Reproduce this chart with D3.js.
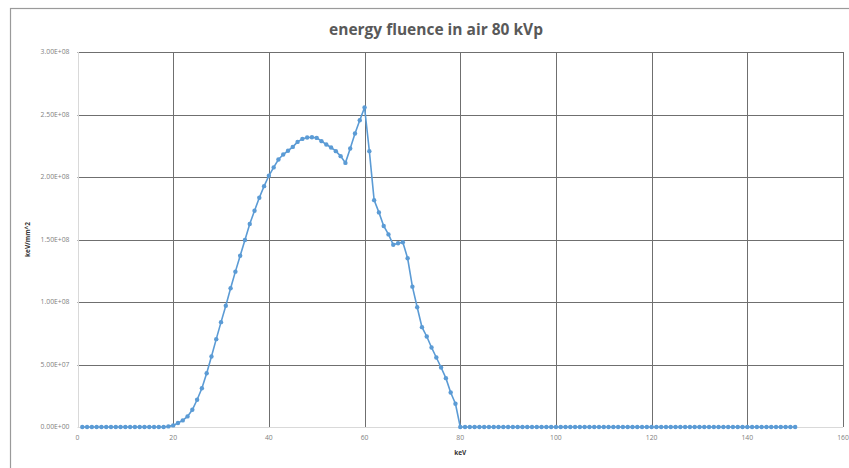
<!DOCTYPE html>
<html>
<head>
<meta charset="utf-8">
<script src="https://cdn.jsdelivr.net/npm/d3@7"></script>
<style>
  body { margin: 0; background: #fff; }
  svg { display: block; font-family: "Open Sans", "Liberation Sans", sans-serif; }
</style>
</head>
<body>
<svg id="vis-svg"></svg>
<script>
// energy (keV) 1..150
const energies = d3.range(1, 151);

// energy fluence values, keV 1..80 (zero after 80)
const fluenceLow = [
  0, 0, 0, 0, 0, 0, 0, 0, 0, 0,
  0, 0, 0, 0, 0, 0, 0, 0, 0.5e6, 1.3e6,
  3.2e6, 5.3e6, 8.5e6, 1.38e7, 2.18e7, 3.1e7, 4.3e7, 5.64e7, 7.03e7, 8.39e7,
  9.7e7, 1.11e8, 1.243e8, 1.37e8, 1.496e8, 1.624e8, 1.73e8, 1.834e8, 1.927e8, 2.01e8,
  2.077e8, 2.14e8, 2.18e8, 2.21e8, 2.241e8, 2.281e8, 2.305e8, 2.316e8, 2.318e8, 2.313e8,
  2.287e8, 2.26e8, 2.236e8, 2.207e8, 2.167e8, 2.113e8, 2.228e8, 2.348e8, 2.454e8, 2.556e8,
  2.207e8, 1.815e8, 1.717e8, 1.608e8, 1.541e8, 1.458e8, 1.47e8, 1.478e8, 1.35e8, 1.123e8,
  9.58e7, 7.99e7, 7.24e7, 6.36e7, 5.56e7, 4.76e7, 3.91e7, 2.76e7, 1.86e7, 0
];
const fluence = energies.map((e, i) => i < fluenceLow.length ? fluenceLow[i] : 0);

const xTicks = [0, 20, 40, 60, 80, 100, 120, 140, 160];
const yTicks = [0, 5e7, 1e8, 1.5e8, 2e8, 2.5e8, 3e8];

const titleText = "energy fluence in air 80 kVp";
const xLabelText = "keV";
const yLabelText = "keV/mm^2";

const W = 849, H = 468;
const margin = {top: 52, right: 6, bottom: 41, left: 77.5};

const svg = d3.select("#vis-svg").attr("width", W).attr("height", H);

// outer chart frame (cut off at right and bottom)
svg.append("rect")
    .attr("x", 10.5).attr("y", 8.5)
    .attr("width", W + 20).attr("height", H + 20)
    .attr("fill", "none").attr("stroke", "#9a9a9a").attr("stroke-width", 1.2);

const x = d3.scaleLinear().domain([0, 160]).range([margin.left, W - margin.right]);
const y = d3.scaleLinear().domain([0, 3e8]).range([H - margin.bottom, margin.top]);

// gridlines
svg.append("g").selectAll("line")
    .data(yTicks.slice(1))
  .enter().append("line")
    .attr("x1", x(0)).attr("x2", x(160))
    .attr("y1", d => Math.round(y(d)) + 0.5).attr("y2", d => Math.round(y(d)) + 0.5)
    .attr("stroke", "#6f6f6f").attr("stroke-width", 1);

svg.append("g").selectAll("line")
    .data(xTicks.slice(1))
  .enter().append("line")
    .attr("x1", d => Math.round(x(d)) + 0.5).attr("x2", d => Math.round(x(d)) + 0.5)
    .attr("y1", y(0)).attr("y2", y(3e8))
    .attr("stroke", "#6f6f6f").attr("stroke-width", 1);

// axis lines
svg.append("line")
    .attr("x1", Math.round(x(0)) + 0.5).attr("x2", Math.round(x(0)) + 0.5)
    .attr("y1", y(0)).attr("y2", y(3e8))
    .attr("stroke", "#d9d9d9");
svg.append("line")
    .attr("x1", x(0)).attr("x2", x(160))
    .attr("y1", Math.round(y(0)) + 0.5).attr("y2", Math.round(y(0)) + 0.5)
    .attr("stroke", "#d9d9d9");

// tick labels
const fmtE = d => {
  const s = d3.format(".2e")(d).toUpperCase();
  return s.replace(/E([+-])(\d)$/, "E$10$2");
};

svg.append("g").selectAll("text")
    .data(yTicks)
  .enter().append("text")
    .attr("x", x(0) - 8)
    .attr("y", d => y(d))
    .attr("dy", "0.35em")
    .attr("text-anchor", "end")
    .attr("font-size", 6.8)
    .attr("fill", "#7f7f7f")
    .text(fmtE);

svg.append("g").selectAll("text")
    .data(xTicks)
  .enter().append("text")
    .attr("x", d => x(d))
    .attr("y", y(0) + 13)
    .attr("text-anchor", "middle")
    .attr("font-size", 6.8)
    .attr("fill", "#7f7f7f")
    .text(d => d);

// axis titles
svg.append("text")
    .attr("x", x(80))
    .attr("y", 455)
    .attr("text-anchor", "middle")
    .attr("font-size", 6.5)
    .attr("font-weight", "bold")
    .attr("fill", "#333")
    .text(xLabelText);

svg.append("text")
    .attr("transform", "translate(30," + ((y(0) + y(3e8)) / 2) + ") rotate(-90)")
    .attr("text-anchor", "middle")
    .attr("font-size", 6.5)
    .attr("font-weight", "bold")
    .attr("fill", "#333")
    .text(yLabelText);

// chart title
svg.append("text")
    .attr("x", 436)
    .attr("y", 35)
    .attr("text-anchor", "middle")
    .attr("font-size", 15.5)
    .attr("font-weight", "bold")
    .attr("fill", "#595959")
    .text(titleText);

// series line + markers
const line = d3.line()
    .x((d, i) => x(energies[i]))
    .y(d => y(d));

svg.append("path")
    .datum(fluence)
    .attr("d", line)
    .attr("fill", "none")
    .attr("stroke", "#5b9bd5")
    .attr("stroke-width", 1.6);

svg.append("g").selectAll("circle")
    .data(fluence)
  .enter().append("circle")
    .attr("cx", (d, i) => x(energies[i]))
    .attr("cy", d => y(d))
    .attr("r", 2.2)
    .attr("fill", "#5b9bd5");
</script>
</body>
</html>
